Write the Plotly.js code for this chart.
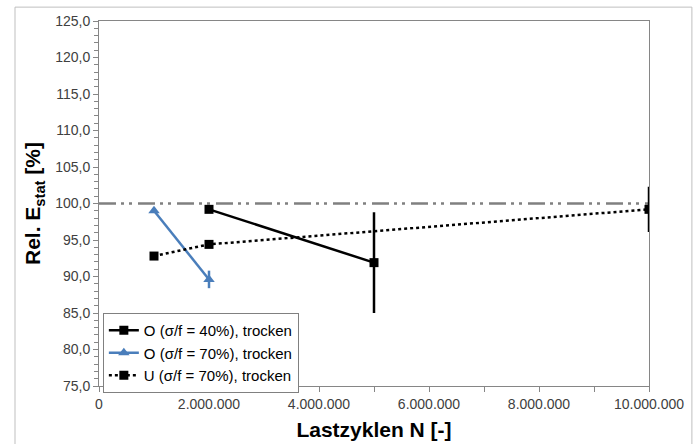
<!DOCTYPE html>
<html>
<head>
<meta charset="utf-8">
<script src="https://cdn.plot.ly/plotly-3.0.1.min.js"></script>
<style>html,body{margin:0;padding:0;background:#fff;} #chart{width:699px;height:444px;}</style>
</head>
<body>
<div id="chart"></div>
<script>
// Data
const xO40 = [2000000, 5000000];
const yO40 = [99.2, 91.9];
const errO40 = [0, 6.9];

const xO70 = [1000000, 2000000];
const yO70 = [99.0, 89.6];
const errO70 = [0, 1.2];

const xU70 = [1000000, 2000000, 10000000];
const yU70 = [92.8, 94.4, 99.2];
const errU70 = [0, 0, 3.1];

const refX = [0, 10000000];
const refY = [100, 100];

const names = ["O (σ/f = 40%), trocken", "O (σ/f = 70%), trocken", "U (σ/f = 70%), trocken"];

const FONT = "Arial, 'Liberation Sans', sans-serif";

const traces = [
  {x: refX, y: refY, mode: 'lines', showlegend: false, hoverinfo: 'skip',
   line: {color: '#808080', width: 2.5, dash: '17px,5px,3px,5px,3px,6px'}},
  {x: xO40, y: yO40, name: names[0], mode: 'lines+markers',
   line: {color: '#000000', width: 2.5},
   marker: {symbol: 'square', size: 9, color: '#000000'},
   error_y: {type: 'data', array: errO40, visible: true, color: '#000000', thickness: 2.5, width: 0}},
  {x: xO70, y: yO70, name: names[1], mode: 'lines+markers',
   line: {color: '#4a7ebb', width: 2.5},
   marker: {symbol: 'triangle-up', size: 10, color: '#4a7ebb'},
   error_y: {type: 'data', array: errO70, visible: true, color: '#4a7ebb', thickness: 2.5, width: 0}},
  {x: xU70, y: yU70, name: names[2], mode: 'lines+markers',
   line: {color: '#000000', width: 2.5, dash: 'dot'},
   marker: {symbol: 'square', size: 9, color: '#000000'},
   error_y: {type: 'data', array: errU70, visible: true, color: '#000000', thickness: 2.5, width: 0}}
];

const layout = {
  width: 699, height: 444,
  margin: {l: 99, r: 50, t: 21, b: 58},
  paper_bgcolor: '#ffffff', plot_bgcolor: '#ffffff',
  separators: ',.',
  font: {family: FONT, color: '#000000'},
  showlegend: true,
  legend: {x: 0.007, y: 0.2, xanchor: 'left', yanchor: 'top',
    bgcolor: '#ffffff', bordercolor: '#808080', borderwidth: 1,
    font: {family: FONT, size: 15, color: '#000000'}, itemwidth: 30,
    tracegroupgap: 0},
  xaxis: {
    range: [0, 10000000], dtick: 2000000, tick0: 0, tickformat: ',d',
    showgrid: false, zeroline: false,
    showline: true, linecolor: '#868686', linewidth: 1, mirror: true,
    ticks: 'outside', ticklen: 5, tickcolor: '#868686', tickwidth: 1,
    minor: {dtick: 1000000, ticks: 'outside', ticklen: 5, tickcolor: '#868686', showgrid: false},
    tickfont: {family: FONT, size: 14, color: '#404040'},
    title: {text: 'Lastzyklen N [-]', font: {family: FONT, size: 21, color: '#000000', weight: 'bold'}, standoff: 11}
  },
  yaxis: {
    range: [75, 125], dtick: 5, tick0: 75, tickformat: '.1f',
    showgrid: false, zeroline: false,
    showline: true, linecolor: '#868686', linewidth: 1, mirror: true,
    ticks: 'outside', ticklen: 5, tickcolor: '#868686', tickwidth: 1,
    minor: {dtick: 1, ticks: 'outside', ticklen: 4, tickcolor: '#868686', showgrid: false},
    tickfont: {family: FONT, size: 14, color: '#404040'},
    title: {text: 'Rel. E<sub>stat</sub> [%]', font: {family: FONT, size: 21, color: '#000000', weight: 'bold'}, standoff: 8}
  },
  shapes: [
    {type: 'rect', xref: 'paper', yref: 'paper', x0: -0.1527, x1: 1.078, y0: -0.2, y1: 1.038,
     line: {color: '#bfbfbf', width: 1}, fillcolor: 'rgba(0,0,0,0)', layer: 'below'}
  ]
};

Plotly.newPlot('chart', traces, layout, {displayModeBar: false, staticPlot: true});
</script>
</body>
</html>
